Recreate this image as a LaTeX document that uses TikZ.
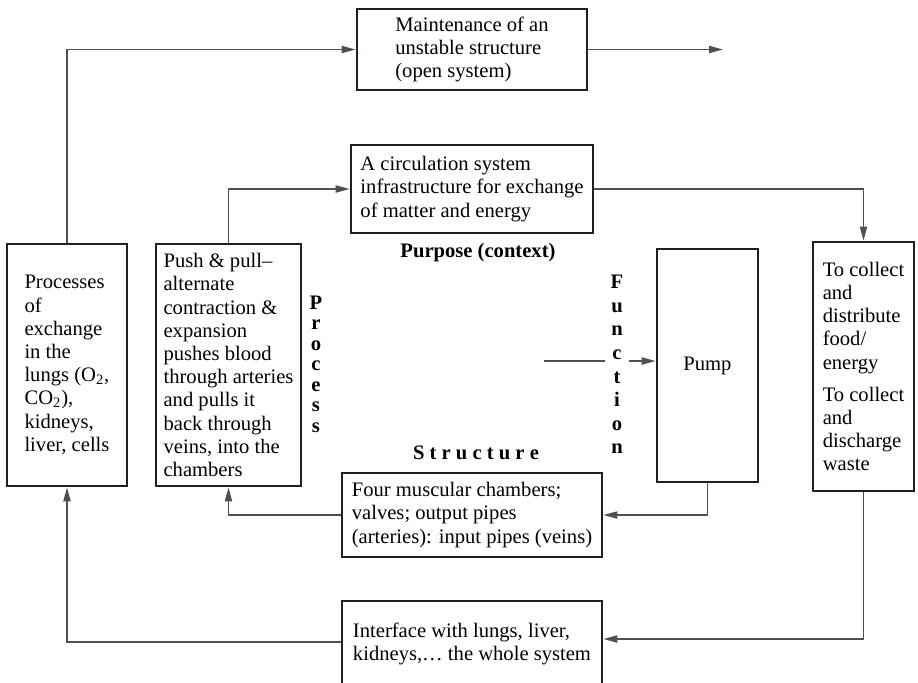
\documentclass[tikz,border=0pt]{standalone}
\usepackage{fontspec}
\setmainfont{Liberation Serif}
\usepackage{tikz}
\usetikzlibrary{positioning,arrows.meta}
\definecolor{boxk}{RGB}{35,31,32}
\definecolor{lineg}{RGB}{80,80,80}
\tikzset{
  box/.style={draw=boxk, line width=1.4pt, align=left, inner sep=2pt, font=\fontsize{10.3pt}{11.6pt}\selectfont},
  lbl/.style={align=center, inner sep=1pt, font=\fontsize{10.3pt}{11.6pt}\selectfont\bfseries},
  arr/.style={-{Triangle[length=7pt, width=3.6pt]}, line width=0.75pt, draw=lineg},
}
\begin{document}
\begin{tikzpicture}[x=0.5pt, y=-0.5pt]
    \path[use as bounding box, clip] (0,0) rectangle (918,682);
    \node[box, minimum width=115pt, minimum height=40.5pt] (maint) at (472,49.5) {Maintenance of an\\unstable structure\\(open system)};
    \node[box, minimum width=121pt, minimum height=44pt] (circ) at (472,189) {A circulation system\\infrastructure for exchange\\of matter and energy};
    \node[box, minimum width=60pt, minimum height=121pt] (proc) at (67,365) {Processes\\of\\exchange\\in the\\lungs (O\textsubscript{2},\\CO\textsubscript{2}),\\kidneys,\\liver, cells};
    \node[box, minimum width=72.5pt, minimum height=121pt] (push) at (228.5,365) {Push \& pull--\\alternate\\contraction \&\\expansion\\pushes blood\\through arteries\\and pulls it\\back through\\veins, into the\\chambers};
    \node[box, minimum width=50.5pt, minimum height=116.5pt, align=center] (pump) at (707.5,365.5) {Pump};
    \node[box, minimum width=50.5pt, minimum height=124.5pt] (collect) at (863.5,366.5) {To collect\\and\\distribute\\food/\\energy\\[4.5pt]To collect\\and\\discharge\\waste};
    \node[box, minimum width=130pt, minimum height=42pt] (four) at (472,515) {Four muscular chambers;\\valves; output pipes\\(arteries): input pipes (veins)};
    \node[box, minimum width=130pt, minimum height=43pt] (iface) at (472,644) {Interface with lungs, liver,\\kidneys,\ldots{} the whole system};

    \node[lbl] (purpose) at (478,253) {Purpose (context)};
    \node[lbl] (structure) at (476,453) {S t r u c t u r e};
    \node[lbl, font=\fontsize{10.3pt}{10.25pt}\selectfont\bfseries] (process) at (316,364) {P\\r\\o\\c\\e\\s\\s};

    \coordinate (out) at (723,49.5);
    \coordinate (fin) at (544,361);
    \draw[arr] (proc.north) |- (maint.west);
    \draw[arr] (maint.east) -- (out);
    \draw[arr] (push.north) |- (circ.west);
    \draw[arr] (circ.east) -| (collect.north);
    \draw[arr] (fin) -- (fin -| pump.west);
    \node[lbl, fill=white, inner xsep=3pt, font=\fontsize{10.3pt}{11.8pt}\selectfont\bfseries] (function) at (617,364.5) {F\\u\\n\\c\\t\\i\\o\\n};
    \draw[arr] (pump.south) |- (four.east);
    \draw[arr] (four.west) -| (push.south);
    \draw[arr] (collect.south) |- ([yshift=2.5pt]iface.east);
    \draw[arr] ([yshift=1pt]iface.west) -| (proc.south);
\end{tikzpicture}
\end{document}
